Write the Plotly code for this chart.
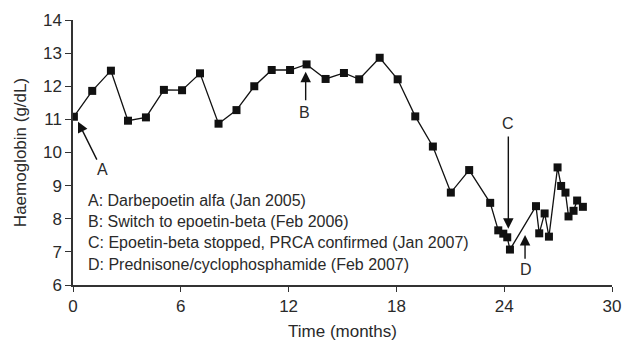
import plotly.graph_objects as go

time_months = [0.05, 1.07, 2.11, 3.06, 4.06, 5.06, 6.07, 7.07, 8.1, 9.1, 10.09, 11.06,
               12.08, 13.0, 14.06, 15.08, 15.93, 17.07, 18.07, 19.05, 20.03, 21.03,
               22.05, 23.22, 23.67, 23.95, 24.17, 24.32, 25.77, 25.95, 26.25, 26.49,
               26.97, 27.17, 27.41, 27.58, 27.86, 28.06, 28.38]
haemoglobin = [11.08, 11.86, 12.47, 10.96, 11.06, 11.89, 11.88, 12.39, 10.87, 11.28, 12.0, 12.49,
               12.49, 12.66, 12.22, 12.4, 12.21, 12.86, 12.21, 11.09, 10.18, 8.79,
               9.47, 8.48, 7.65, 7.55, 7.44, 7.07, 8.38, 7.56, 8.16, 7.46,
               9.55, 8.99, 8.79, 8.07, 8.24, 8.55, 8.36]

x_ticks = [0, 6, 12, 18, 24, 30]
y_ticks = [6, 7, 8, 9, 10, 11, 12, 13, 14]

legend_lines = [
    "A: Darbepoetin alfa (Jan 2005)",
    "B: Switch to epoetin-beta (Feb 2006)",
    "C: Epoetin-beta stopped, PRCA confirmed (Jan 2007)",
    "D: Prednisone/cyclophosphamide (Feb 2007)",
]

FONT = "Liberation Sans, Arial, Helvetica, sans-serif"
TXT = "#2a2a2a"

fig = go.Figure()
fig.add_trace(go.Scatter(
    x=time_months, y=haemoglobin, mode="lines+markers",
    line=dict(color="#111111", width=1.3),
    marker=dict(symbol="square", size=8, color="#111111"),
    showlegend=False, hoverinfo="skip",
))

annotations = []

def arrow(tip_x, tip_y, tail_x, tail_y):
    annotations.append(dict(
        x=tip_x, y=tip_y, ax=tail_x, ay=tail_y, xref="x", yref="y",
        axref="x", ayref="y", text="", showarrow=True,
        arrowhead=2, arrowsize=1.5, arrowwidth=1.4, arrowcolor="#111111",
    ))

def label(x, y, t):
    annotations.append(dict(
        x=x, y=y, xref="x", yref="y", text=t, showarrow=False,
        font=dict(family=FONT, size=16, color=TXT), xanchor="center", yanchor="middle",
    ))

arrow(0.28, 10.93, 1.37, 9.74)
label(1.63, 9.5, "A")
arrow(12.95, 12.44, 12.95, 11.53)
label(12.9, 11.2, "B")
arrow(24.23, 7.7, 24.23, 10.53)
label(24.23, 10.88, "C")
arrow(25.16, 7.51, 25.16, 6.75)
label(25.2, 6.48, "D")

legend_y = [8.54, 7.91, 7.28, 6.63]
for yy, t in zip(legend_y, legend_lines):
    annotations.append(dict(
        x=0.72, y=yy, xref="x", yref="y", text=t, showarrow=False,
        font=dict(family=FONT, size=16, color=TXT), xanchor="left", yanchor="middle",
    ))

fig.update_layout(
    width=623, height=341,
    margin=dict(l=73, r=11, t=20, b=56),
    paper_bgcolor="white", plot_bgcolor="white",
    font=dict(family=FONT, size=17, color=TXT),
    annotations=annotations,
    xaxis=dict(
        range=[0, 30], tickvals=x_ticks, ticktext=[str(v) for v in x_ticks],
        showline=True, linecolor="#333333", linewidth=1.5, showgrid=False, zeroline=False,
        ticks="outside", ticklen=5, tickwidth=1.3, tickcolor="#333333", automargin=False,
        title=dict(text="Time (months)", font=dict(size=17, family=FONT, color=TXT), standoff=10),
        tickfont=dict(size=17, family=FONT, color=TXT),
    ),
    yaxis=dict(
        range=[6, 14], tickvals=y_ticks, ticktext=[str(v) for v in y_ticks],
        showline=True, linecolor="#333333", linewidth=1.5, showgrid=False, zeroline=False,
        ticks="outside", ticklen=6, tickwidth=1.3, tickcolor="#333333", automargin=False,
        title=dict(text="Haemoglobin (g/dL)", font=dict(size=17, family=FONT, color=TXT), standoff=12),
        tickfont=dict(size=17, family=FONT, color=TXT),
    ),
)

fig.write_html("out.html", config={"displayModeBar": False},
               post_script="document.body.style.margin='0';")
